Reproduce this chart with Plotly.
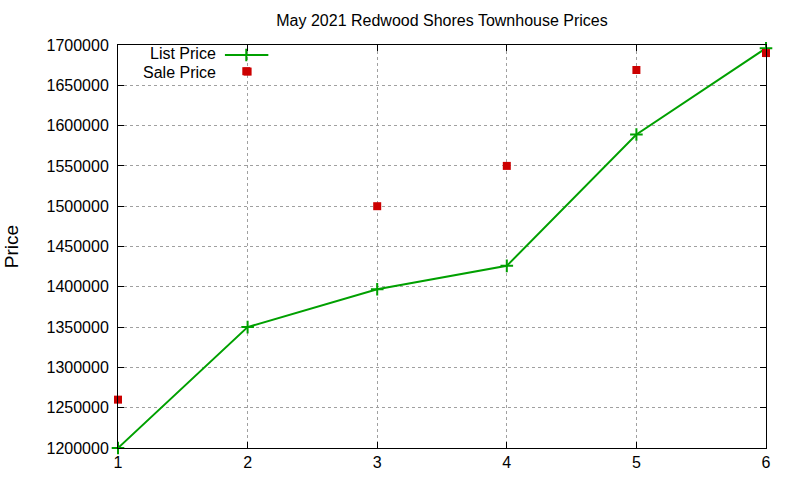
import plotly.graph_objects as go

# listing number along x, prices in dollars
listing = [1, 2, 3, 4, 5, 6]
list_price = [1200000, 1350000, 1397000, 1426000, 1589000, 1696000]
sale_price = [1260000, 1667000, 1500000, 1550000, 1669000, 1690000]

GREEN = "#00a000"
RED = "#cc0000"
FONT = "Liberation Sans, Arial, sans-serif"

fig = go.Figure()
fig.add_trace(go.Scatter(x=listing, y=list_price, mode="lines+markers", name="List Price",
                         line=dict(color=GREEN, width=2),
                         marker=dict(symbol="cross-thin", size=9, line=dict(color=GREEN, width=2)),
                         cliponaxis=False))
fig.add_trace(go.Scatter(x=listing, y=sale_price, mode="markers", name="Sale Price",
                         marker=dict(symbol="square", size=8, color=RED),
                         cliponaxis=False))

# gnuplot-like key: text on the left, sample on the right
fig.add_annotation(xref="paper", yref="paper", x=0.155, y=0.978, text="List Price",
                   showarrow=False, xanchor="right", yanchor="middle", font=dict(size=16))
fig.add_annotation(xref="paper", yref="paper", x=0.155, y=0.932, text="Sale Price",
                   showarrow=False, xanchor="right", yanchor="middle", font=dict(size=16))
fig.add_shape(type="line", xref="paper", yref="paper", x0=0.165, x1=0.232, y0=0.975, y1=0.975,
              line=dict(color=GREEN, width=2))
fig.add_trace(go.Scatter(x=[0.198], y=[0.975], xaxis="x2", yaxis="y2", mode="markers",
                         marker=dict(symbol="cross-thin", size=9, line=dict(color=GREEN, width=2)),
                         showlegend=False, hoverinfo="skip"))
fig.add_trace(go.Scatter(x=[0.198], y=[0.935], xaxis="x2", yaxis="y2", mode="markers",
                         marker=dict(symbol="square", size=8, color=RED),
                         showlegend=False, hoverinfo="skip"))

fig.update_layout(
    width=800, height=480,
    margin=dict(l=118, r=34, t=45, b=32),
    paper_bgcolor="white", plot_bgcolor="white",
    font=dict(family=FONT, size=16, color="black"),
    title=dict(text="May 2021 Redwood Shores Townhouse Prices", x=0.5, xref="paper",
               y=0.958, yanchor="middle", font=dict(size=16)),
    showlegend=False,
    xaxis=dict(range=[1, 6], dtick=1, showline=True, linecolor="black", linewidth=1,
               mirror="ticks", ticks="inside", ticklen=6, tickcolor="black",
               showgrid=True, gridcolor="#a0a0a0", griddash="dot", gridwidth=1,
               zeroline=False, tickfont=dict(size=16), automargin=False),
    yaxis=dict(range=[1200000, 1700000], dtick=50000, tickformat="d",
               showline=True, linecolor="black", linewidth=1,
               mirror="ticks", ticks="inside", ticklen=6, tickcolor="black",
               showgrid=True, gridcolor="#a0a0a0", griddash="dot", gridwidth=1,
               zeroline=False, tickfont=dict(size=16), ticklabelstandoff=5,
               automargin=False, title=dict(text="Price", standoff=22)),
    xaxis2=dict(range=[0, 1], domain=[0, 1], anchor="y2", overlaying="x", visible=False),
    yaxis2=dict(range=[0, 1], domain=[0, 1], anchor="x2", overlaying="y", visible=False),
)

fig.write_html("out.html", config={"displayModeBar": False},
               post_script="document.body.style.margin='0';")
